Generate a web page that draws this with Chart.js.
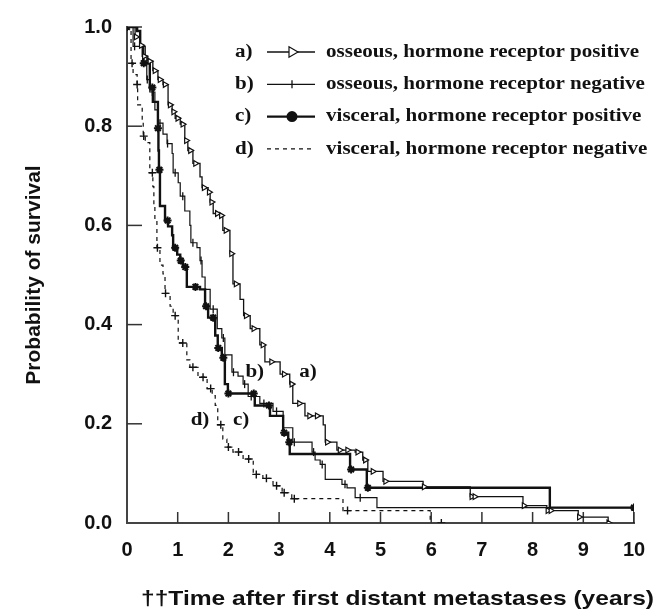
<!DOCTYPE html>
<html><head><meta charset="utf-8">
<script src="https://cdn.jsdelivr.net/npm/chart.js@4/dist/chart.umd.min.js"></script>
<style>html,body{margin:0;padding:0;background:#fff}</style>
</head><body>
<canvas id="c" width="663" height="613"></canvas>
<script>
// ---- data ----
const xTicks = [0,1,2,3,4,5,6,7,8,9,10];
const yTicks = [0,0.2,0.4,0.6,0.8,1.0];
const seriesKeys = ['a)','b)','c)','d)'];
const seriesNames = ['osseous, hormone receptor positive','osseous, hormone receptor negative','visceral, hormone receptor positive','visceral, hormone receptor negative'];
const xTitle = '\u2020\u2020Time after first distant metastases (years)';
const yTitle = 'Probability of survival';

// a) osseous, HR+
const aTime = [0,0.16,0.26,0.30,0.41,0.51,0.61,0.71,0.81,0.89,0.95,1.05,1.14,1.20,1.30,1.44,1.48,1.60,1.64,1.70,1.83,1.89,2.03,2.09,2.23,2.30,2.43,2.62,2.72,3.02,3.21,3.27,3.51,3.87,3.91,4.14,4.50,4.65,4.75,5.05,5.84,6.77,7.81,8.28,8.90,9.49];
const aSurv = [1,0.980,0.963,0.941,0.931,0.912,0.894,0.884,0.843,0.829,0.816,0.804,0.771,0.751,0.725,0.698,0.676,0.667,0.647,0.624,0.620,0.590,0.543,0.482,0.451,0.418,0.392,0.359,0.325,0.300,0.280,0.241,0.216,0.198,0.163,0.147,0.143,0.127,0.104,0.084,0.073,0.053,0.035,0.025,0.012,0];
const aCens = [0.18,0.28,0.34,0.45,0.55,0.65,0.75,0.85,0.92,1.0,1.1,1.17,1.25,1.35,1.52,1.62,1.67,1.78,1.86,1.95,2.06,2.15,2.35,2.5,2.68,2.85,3.1,3.25,3.4,3.6,3.75,3.95,4.2,4.35,4.55,4.7,4.85,5.1,5.86,6.8,6.86,7.83,8.3,8.36,8.92,9.5];
// b) osseous, HR-
const bTime = [0,0.12,0.36,0.39,0.45,0.55,0.61,0.71,0.79,0.89,0.91,1.01,1.05,1.14,1.24,1.26,1.38,1.44,1.48,1.54,1.64,1.78,1.87,1.93,2.07,2.19,2.29,2.39,2.62,2.88,3.08,3.27,3.65,3.71,3.81,3.91,4.24,4.34,4.50,4.93,10.0];
const bSurv = [1,0.961,0.941,0.894,0.869,0.833,0.806,0.784,0.765,0.745,0.706,0.686,0.659,0.629,0.600,0.565,0.555,0.529,0.496,0.471,0.431,0.392,0.373,0.339,0.304,0.296,0.280,0.255,0.241,0.225,0.192,0.163,0.143,0.127,0.118,0.088,0.078,0.071,0.051,0.031,0];
const bCens = [0.15,0.4,0.5,0.65,0.8,0.95,1.1,1.3,1.46,1.7,1.9,2.1,2.32,2.45,2.7,2.95,3.3,3.68,3.85,4.3,4.6];
// c) visceral, HR+
const cTime = [0,0.20,0.26,0.32,0.45,0.51,0.61,0.62,0.63,0.65,0.75,0.81,0.89,0.91,0.99,1.05,1.10,1.18,1.44,1.54,1.60,1.74,1.79,1.87,1.93,1.99,2.52,2.82,3.08,3.18,3.21,4.40,4.73,8.34,10.0];
const cSurv = [1,0.992,0.961,0.927,0.878,0.849,0.796,0.751,0.712,0.639,0.610,0.598,0.580,0.555,0.541,0.529,0.516,0.476,0.471,0.437,0.414,0.378,0.353,0.333,0.280,0.261,0.237,0.216,0.182,0.163,0.139,0.108,0.071,0.031,0.031];
const cCens = [0,0.33,0.5,0.61,0.64,0.8,0.95,1.06,1.15,1.35,1.56,1.7,1.8,1.9,2.0,2.5,2.8,3.1,3.2,4.42,4.75,10.0];
// d) visceral, HR-
const dTime = [0,0.08,0.12,0.20,0.21,0.30,0.32,0.36,0.45,0.51,0.53,0.55,0.59,0.65,0.71,0.75,0.85,0.91,1.01,1.18,1.24,1.40,1.58,1.68,1.74,1.79,1.89,1.97,2.09,2.29,2.49,2.68,2.88,3.06,3.25,4.26,5.98];
const dSurv = [1,0.927,0.904,0.884,0.843,0.814,0.780,0.767,0.706,0.678,0.639,0.610,0.555,0.520,0.502,0.463,0.437,0.418,0.363,0.329,0.314,0.294,0.271,0.257,0.237,0.198,0.169,0.153,0.143,0.129,0.098,0.090,0.075,0.061,0.049,0.025,0];
const dCens = [0.1,0.2,0.33,0.5,0.6,0.76,0.95,1.1,1.3,1.5,1.65,1.85,2.0,2.2,2.4,2.55,2.75,2.95,3.1,3.3,4.35,6.2];

// in-plot curve labels
const annText = ['a)','b)','c)','d)'];
const annX = [3.57,2.52,2.25,1.44];
const annY = [0.303,0.303,0.207,0.207];

// ---- helpers ----
const pts = (T,S) => T.map((t,i)=>({x:t,y:S[i]}));
const survAt = (T,S,t) => { let v=S[0]; for (let i=0;i<T.length;i++){ if (T[i]<=t) v=S[i]; } return v; };
const cens = (C,T,S) => C.map(t=>({x:t,y:survAt(T,S,t)}));

const SANS = '"Liberation Sans", Arial, sans-serif';
const SERIF = '"Liberation Serif", "Times New Roman", serif';
const styles = [
  {lw:1.3, dash:[], marker:{pointStyle:'triangle', rotation:90, radius:3.3, borderWidth:1.2, fill:'#fff'}},
  {lw:1.2, dash:[], marker:{pointStyle:'line', rotation:90, radius:4, borderWidth:1.3, fill:'#000'}},
  {lw:2.4, dash:[], marker:{pointStyle:'star', rotation:0, radius:4, borderWidth:2, fill:'#000'}},
  {lw:1.2, dash:[4,4], marker:{pointStyle:'cross', rotation:0, radius:4, borderWidth:1.4, fill:'#000'}}
];
const curves = [[aTime,aSurv,aCens],[bTime,bSurv,bCens],[cTime,cSurv,cCens],[dTime,dSurv,dCens]];

const datasets = [];
curves.forEach((c,i)=>{
  datasets.push({type:'line', label:seriesNames[i], data:pts(c[0],c[1]), stepped:true,
    borderColor:'#111', borderWidth:styles[i].lw, borderDash:styles[i].dash, pointRadius:0, fill:false, order:2});
});
curves.forEach((c,i)=>{
  const m = styles[i].marker;
  datasets.push({type:'scatter', label:seriesNames[i]+' censored', data:cens(c[2],c[0],c[1]),
    pointStyle:m.pointStyle, rotation:m.rotation, pointRadius:m.radius, borderWidth:m.borderWidth,
    borderColor:'#111', backgroundColor:m.fill, order:1});
});

// text drawn with a horizontal stretch (the reference figure is widened)
function stretchText(ctx, text, x, y, sx, align){
  ctx.save();
  ctx.translate(x, y);
  ctx.scale(sx, 1);
  ctx.textAlign = align || 'left';
  ctx.fillText(text, 0, 0);
  ctx.restore();
}

const decor = {
  id:'decor',
  beforeDatasetsDraw(chart){
    const {ctx, chartArea:ca, scales:{x,y}} = chart;
    ctx.save();
    ctx.strokeStyle='#333'; ctx.lineWidth=1.5;
    xTicks.forEach(v=>{ if(v===0) return; const px=x.getPixelForValue(v); ctx.beginPath(); ctx.moveTo(px,ca.bottom); ctx.lineTo(px,ca.bottom-11); ctx.stroke(); });
    yTicks.forEach(v=>{ if(v===0) return; const py=y.getPixelForValue(v); ctx.beginPath(); ctx.moveTo(ca.left,py); ctx.lineTo(ca.left+15,py); ctx.stroke(); });
    ctx.restore();
  },
  afterDraw(chart){
    const {ctx, scales:{x,y}} = chart;
    ctx.save();
    ctx.fillStyle='#111';
    ctx.textBaseline='middle';
    // legend
    const y0=52, gap=32.3, sx=1.17;
    ctx.font='bold 18px ' + SERIF;
    seriesKeys.forEach((k,i)=>{
      const yy = y0+i*gap;
      ctx.fillStyle='#111';
      stretchText(ctx, k, 235, yy, sx);
      stretchText(ctx, seriesNames[i], 326, yy, sx);
      ctx.strokeStyle='#111'; ctx.lineWidth=styles[i].lw; ctx.setLineDash(styles[i].dash);
      ctx.beginPath(); ctx.moveTo(267,yy); ctx.lineTo(315,yy); ctx.stroke();
      ctx.setLineDash([]);
      if (i<3){
        const m=styles[i].marker;
        ctx.fillStyle = i===2 ? '#111' : m.fill; ctx.strokeStyle='#111'; ctx.lineWidth=m.borderWidth;
        const mk = i===2 ? {pointStyle:'circle', rotation:0, radius:4.5, borderWidth:1}
                         : {pointStyle:m.pointStyle, rotation:m.rotation, radius:i===0?6:4, borderWidth:m.borderWidth};
        Chart.helpers.drawPoint(ctx, mk, 292, yy);
      }
    });
    // curve labels
    ctx.fillStyle='#111';
    ctx.font='bold 18px ' + SERIF;
    annText.forEach((t,i)=>stretchText(ctx, t, x.getPixelForValue(annX[i]), y.getPixelForValue(annY[i]), sx, 'center'));
    // x axis title
    ctx.font='bold 21px ' + SANS;
    stretchText(ctx, xTitle, 141, 599, 1.17, 'left');
    ctx.restore();
  }
};

new Chart(document.getElementById('c'), {
  data:{datasets},
  options:{
    responsive:false, animation:false, devicePixelRatio:1,
    layout:{padding:{top:13,right:29,left:0,bottom:0}},
    plugins:{legend:{display:false}, tooltip:{enabled:false}},
    scales:{
      x:{type:'linear', min:0, max:10,
        afterFit:s=>{s.height=90;},
        afterBuildTicks:s=>{s.ticks=xTicks.map(v=>({value:v}));},
        ticks:{padding:15, color:'#111', font:{family:SANS, size:20, weight:'bold'}, callback:v=>String(v)},
        grid:{display:false, drawTicks:false},
        border:{display:true, color:'#444', width:2}
      },
      y:{type:'linear', min:0, max:1,
        afterFit:s=>{s.width=127;},
        afterBuildTicks:s=>{s.ticks=yTicks.map(v=>({value:v}));},
        ticks:{padding:15, color:'#111', font:{family:SANS, size:20, weight:'bold'}, callback:v=>Number(v).toFixed(1)},
        grid:{display:false, drawTicks:false},
        border:{display:true, color:'#444', width:2},
        title:{display:true, text:yTitle, color:'#111', padding:{top:22,bottom:0}, font:{family:SANS, size:21, weight:'bold'}}
      }
    }
  },
  plugins:[decor]
});
</script>
</body></html>
